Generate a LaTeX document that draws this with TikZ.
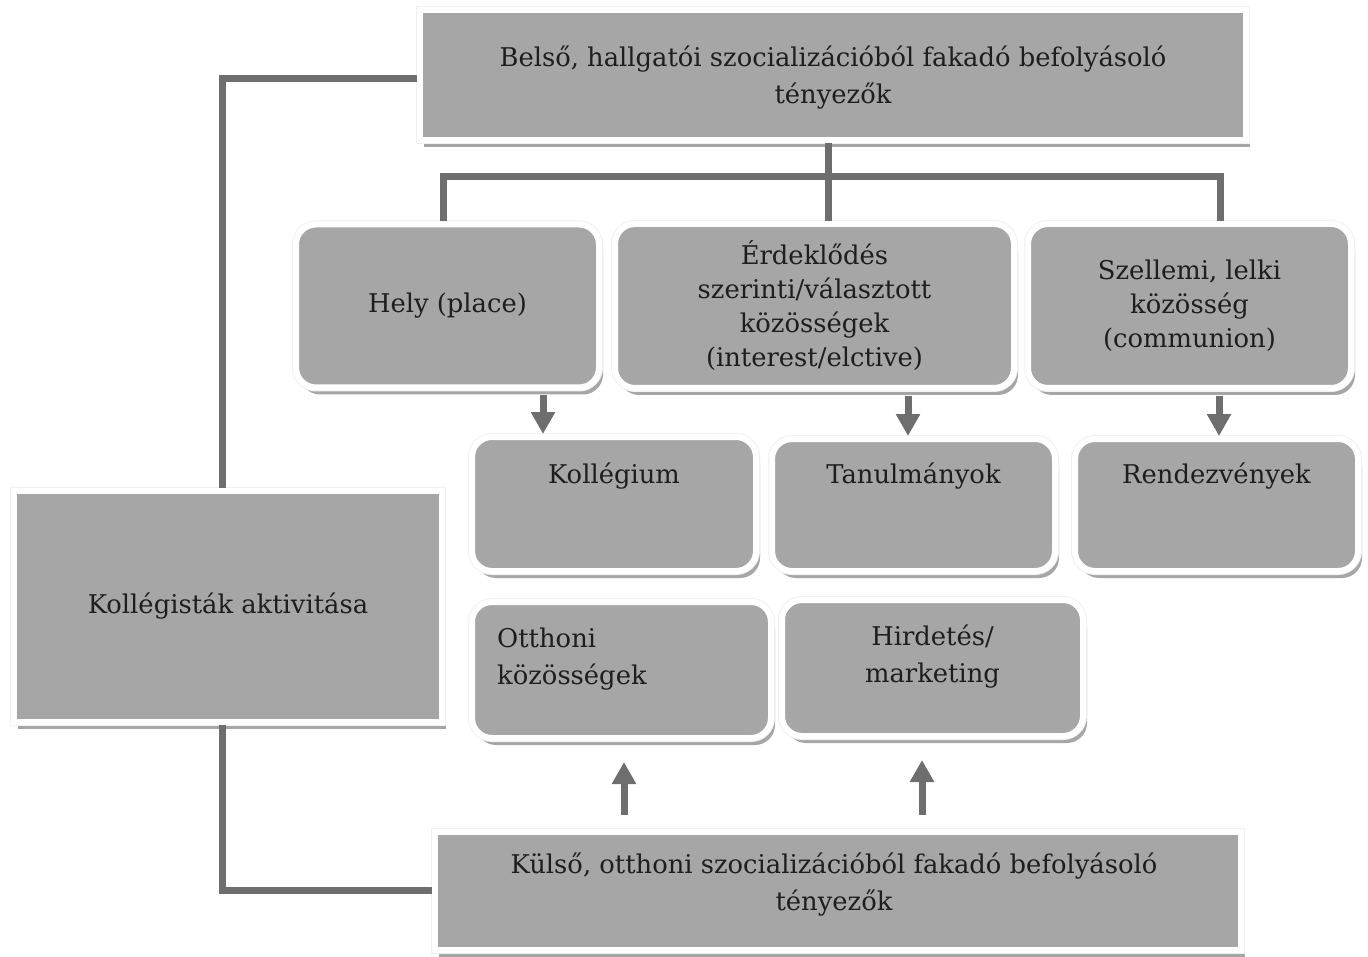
\documentclass[tikz,border=0pt]{standalone}
\usepackage{fontspec}
\setmainfont{DejaVu Serif}
\usetikzlibrary{arrows.meta,shadows}
\definecolor{boxgray}{HTML}{A6A6A6}
\definecolor{linegray}{HTML}{6E6E6E}
\definecolor{txt}{HTML}{1E1E1E}
\begin{document}
\begin{tikzpicture}[x=1pt,y=-1pt,
  every node/.style={font=\fontsize{25.8}{37}\selectfont, text=txt},
  tight/.style={font=\fontsize{25.8}{34}\selectfont},
  box/.style={rectangle, fill=boxgray, draw=white, line width=6pt, inner sep=0pt,
     general shadow={fill=black!35, shadow xshift=4pt, shadow yshift=-7pt},
     preaction={draw=black!6, line width=8pt}},
  rbox/.style={box, rounded corners=20pt},
  conn/.style={draw=linegray, line width=7pt},
  arr/.style={conn, -{Triangle[width=23pt,length=22pt]}},
  toplabel/.style={anchor=north, inner sep=0pt, align=center},
]
\fill[white] (0,0) rectangle (1368,957);
\useasboundingbox (0,0) rectangle (1368,957);

% coordinates for connectors
\coordinate (cL) at (443,177);
\coordinate (cM) at (828,177);
\coordinate (cR) at (1220,177);
\coordinate (cTL) at (222,79);
\coordinate (cBL) at (222,890);
\coordinate (a1) at (543,0);
\coordinate (a2) at (908,0);
\coordinate (a3) at (1219,0);
\coordinate (u1) at (624,0);
\coordinate (u2) at (922,0);

% boxes
\node[box, minimum width=826pt, minimum height=130pt, align=center, text depth=0pt] (top) at (833,75)
  {Belső, hallgatói szocializációból fakadó befolyásoló\\tényezők};
\node[box, minimum width=428pt, minimum height=231pt] (kol) at (228,606)
  {Kollégisták aktivitása};
\node[box, minimum width=806pt, minimum height=118pt,
  label={[anchor=center, inner sep=0pt, align=center, xshift=-4pt, yshift=6pt]center:Külső, otthoni szocializációból fakadó befolyásoló\\tényezők}] (kuls) at (838,891) {};

\node[rbox, minimum width=303pt, minimum height=163pt] (hely) at (447.5,306)
  {Hely (place)};
\node[rbox, tight, minimum width=399pt, minimum height=164pt, align=center] (erd) at (814.5,306)
  {Érdeklődés\\szerinti/választott\\közösségek\\(interest/elctive)};
\node[rbox, tight, minimum width=323pt, minimum height=164pt, align=center] (szel) at (1189.5,306)
  {Szellemi, lelki\\közösség\\(communion)};

\node[rbox, minimum width=284pt, minimum height=134pt,
  label={[toplabel, yshift=-29pt]north:Kollégium}] (kolg) at (614,504) {};
\node[rbox, minimum width=283pt, minimum height=132pt,
  label={[toplabel, yshift=-27pt]north:Tanulmányok}] (tan) at (913.5,505) {};
\node[rbox, minimum width=283pt, minimum height=132pt,
  label={[toplabel, yshift=-27pt]north:Rendezvények}] (rend) at (1216.5,505) {};

\node[rbox, minimum width=299pt, minimum height=136pt,
  label={[anchor=north west, inner sep=0pt, align=left, xshift=28pt, yshift=-29pt]north west:Otthoni\\közösségek}] (ott) at (621.5,670) {};
\node[rbox, minimum width=301pt, minimum height=136pt,
  label={[toplabel, yshift=-28pt]north:Hirdetés/\\marketing}] (hird) at (932.5,668) {};

% connectors
\draw[conn] (cM |- top.south) -- (cM |- erd.north);
\draw[conn] (cL |- hely.north) -- (cL) -- (cR) -- (cR |- szel.north);
\draw[conn] (top.west |- cTL) -- (cTL) -- (cTL |- kol.north);
\draw[conn] (cBL |- kol.south) -- (cBL) -- (cBL -| kuls.west);

% arrows
\draw[arr, shorten <=5pt] (a1 |- hely.south) -- (a1 |- kolg.north);
\draw[arr, shorten <=5pt] (a2 |- erd.south) -- (a2 |- tan.north);
\draw[arr, shorten <=5pt] (a3 |- szel.south) -- (a3 |- rend.north);
\draw[arr, shorten <=14pt, shorten >=21pt] (u1 |- kuls.north) -- (u1 |- ott.south);
\draw[arr, shorten <=14pt, shorten >=21pt] (u2 |- kuls.north) -- (u2 |- hird.south);
\end{tikzpicture}
\end{document}
